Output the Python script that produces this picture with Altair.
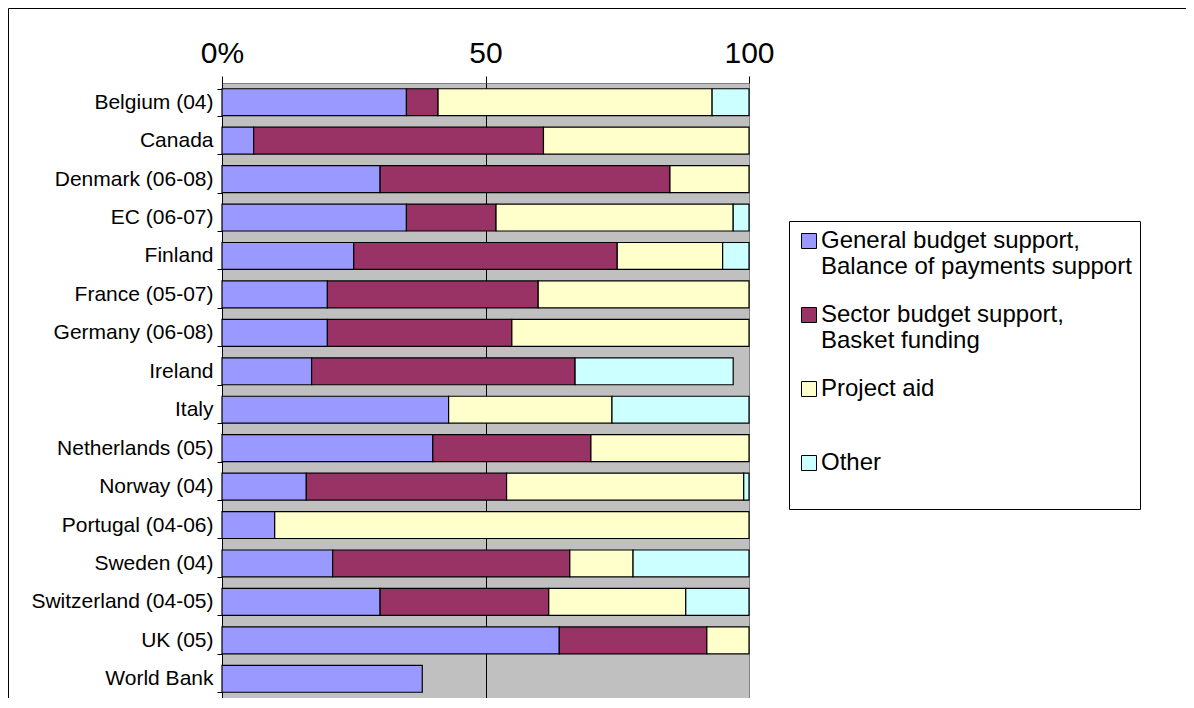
import altair as alt
import pandas as pd

donors = ["Belgium (04)", "Canada", "Denmark (06-08)", "EC (06-07)", "Finland",
          "France (05-07)", "Germany (06-08)", "Ireland", "Italy", "Netherlands (05)",
          "Norway (04)", "Portugal (04-06)", "Sweden (04)", "Switzerland (04-05)",
          "UK (05)", "World Bank"]
general = [35, 6, 30, 35, 25, 20, 20, 17, 43, 40, 16, 10, 21, 30, 64, 38]
sector = [6, 55, 55, 17, 50, 40, 35, 50, 0, 30, 38, 0, 45, 32, 28, 0]
project = [52, 39, 15, 45, 20, 40, 45, 0, 31, 30, 45, 90, 12, 26, 8, 0]
other = [7, 0, 0, 3, 5, 0, 0, 30, 26, 0, 1, 0, 22, 12, 0, 0]

series = ["General budget support, Balance of payments support",
          "Sector budget support, Basket funding",
          "Project aid", "Other"]
colors = ["#9999FF", "#993366", "#FFFFCC", "#CCFFFF"]
x_ticks = [0, 50, 100]

rows = []
for i, d in enumerate(donors):
    for k, vals in enumerate([general, sector, project, other]):
        if vals[i] > 0:
            rows.append({"donor": d, "type": series[k], "order": k, "value": vals[i]})
df = pd.DataFrame(rows)

font = "Liberation Sans"

legend_label_expr = (f"datum.label == '{series[0]}' ? ['General budget support,', 'Balance of payments support'] : "
                     f"datum.label == '{series[1]}' ? ['Sector budget support,', 'Basket funding'] : "
                     "[datum.label, ' ']")

bars = alt.Chart(df).mark_bar(stroke="black", strokeWidth=1.2).encode(
    y=alt.Y("donor:N", sort=donors,
            scale=alt.Scale(paddingInner=0.3, paddingOuter=0.15),
            axis=alt.Axis(title=None, labelFont=font, labelFontSize=21, labelColor="black",
                          labelOverlap=False, labelLimit=400,
                          labelPadding=4, tickSize=5, tickColor="black", tickBand="extent",
                          domainColor="black", domainWidth=1, grid=False)),
    x=alt.X("value:Q", stack="zero",
            scale=alt.Scale(domain=[0, 100], nice=False),
            axis=alt.Axis(orient="top", title=None, values=x_ticks,
                          labelExpr="datum.value == 0 ? '0%' : datum.label",
                          labelFont=font, labelFontSize=30, labelColor="black",
                          labelFlush=False,
                          labelPadding=8, tickSize=7, tickColor="black",
                          domain=False, grid=True,
                          gridColor={"condition": {"test": "datum.value === 100", "value": "#808080"},
                                     "value": "black"},
                          gridWidth=1, gridOpacity=1)),
    color=alt.Color("type:N", sort=series,
                    scale=alt.Scale(domain=series, range=colors),
                    legend=alt.Legend(title=None, orient="none", legendX=567, legendY=138,
                                      padding=8, strokeColor="black", fillColor="white",
                                      symbolType="square", symbolSize=225,
                                      symbolStrokeColor="black", symbolStrokeWidth=1,
                                      symbolOpacity=1,
                                      labelFont=font, labelFontSize=24, labelColor="black",
                                      labelLimit=500, labelOffset=0, rowPadding=24,
                                      labelExpr=legend_label_expr)),
    order=alt.Order("order:Q"),
)

frame = alt.Chart(alt.Data(values=[{}])).mark_rect(fill=None, stroke="black", strokeWidth=1).encode(
    x=alt.value(-213.5), x2=alt.value(2000), y=alt.value(-74.5), y2=alt.value(2000)
)

chart = alt.layer(frame, bars).properties(
    width=527, height=615,
    autosize=alt.AutoSizeParams(type="none"),
    padding={"left": 214, "top": 75, "right": 437, "bottom": 0},
    background="white",
).configure_view(fill="#C0C0C0", stroke="#808080")

chart.save("out.html", embed_options={"renderer": "svg", "actions": False})
